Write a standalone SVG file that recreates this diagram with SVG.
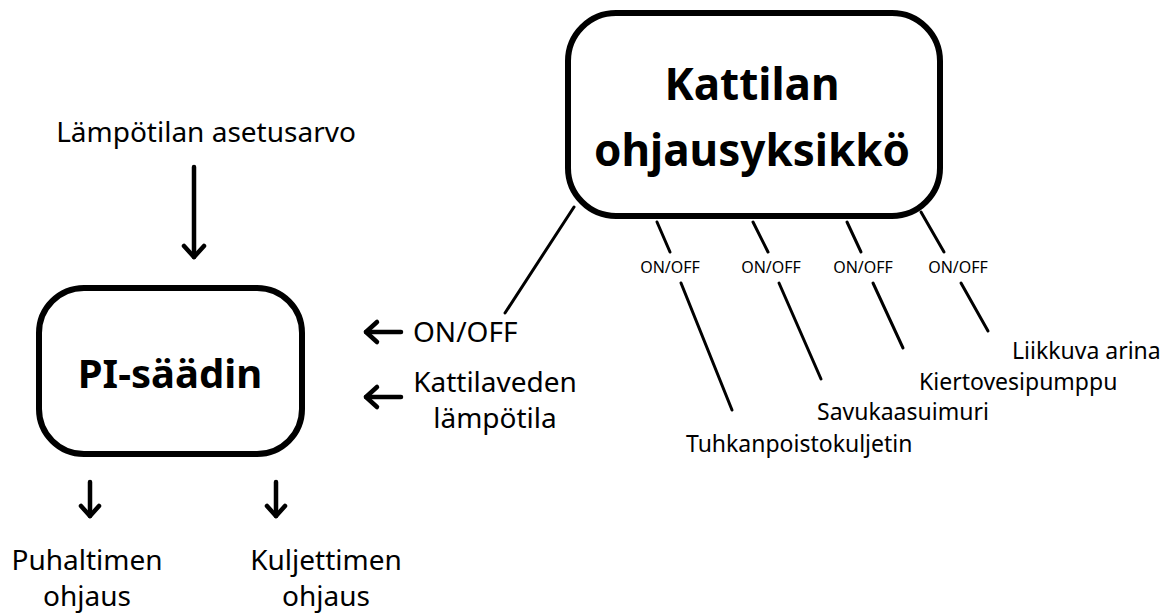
<svg xmlns="http://www.w3.org/2000/svg" width="1168" height="615" viewBox="0 0 1168 615">
<style>
.box{fill:#fff;stroke:#000;stroke-width:6}
.title{font-family:"Noto Sans",sans-serif;font-weight:bold;fill:#000;text-anchor:middle}
.lbl{font-family:"Noto Sans",sans-serif;fill:#000;font-size:28px}
.sm{font-family:"Noto Sans",sans-serif;fill:#000;font-size:23px}
.tiny{font-family:"Noto Sans",sans-serif;fill:#000;font-size:16px;text-anchor:middle}
.ln{stroke:#000;stroke-width:3;fill:none;stroke-linecap:round}
.ar{stroke:#000;stroke-width:4.5;fill:none;stroke-linecap:round;stroke-linejoin:round}
</style>
<rect width="1168" height="615" fill="#fff"/>
<g id="connectors">
<line class="ln" x1="574" y1="207" x2="505" y2="313"/>
<line class="ln" x1="657" y1="222" x2="670" y2="252"/>
<line class="ln" x1="681" y1="283" x2="732" y2="410"/>
<line class="ln" x1="753" y1="222" x2="768" y2="252"/>
<line class="ln" x1="779" y1="283" x2="821" y2="379"/>
<line class="ln" x1="847" y1="222" x2="861" y2="252"/>
<line class="ln" x1="873" y1="283" x2="903" y2="348"/>
<line class="ln" x1="921" y1="212" x2="944" y2="252"/>
<line class="ln" x1="961" y1="283" x2="988" y2="331"/>
<g id="arrow-setpoint"><line class="ar" x1="194" y1="167" x2="194" y2="257"/><path class="ar" d="M184,246 L194,257 L204,246"/></g>
<g id="arrow-onoff"><line class="ar" x1="401" y1="332" x2="366" y2="332"/><path class="ar" d="M377,322 L366,332 L377,342"/></g>
<g id="arrow-temp"><line class="ar" x1="401" y1="397" x2="366" y2="397"/><path class="ar" d="M377,387 L366,397 L377,407"/></g>
<g id="arrow-fan"><line class="ar" x1="90" y1="482" x2="90" y2="516"/><path class="ar" d="M81,506 L90,516 L99,506"/></g>
<g id="arrow-conv"><line class="ar" x1="276" y1="482" x2="276" y2="516"/><path class="ar" d="M267,506 L276,516 L285,506"/></g>
</g>
<g id="kattilan">
<rect class="box" x="568" y="13" width="372" height="203" rx="48"/>
<text class="title" x="752" y="100" font-size="44">Kattilan</text>
<text class="title" x="752" y="166" font-size="44">ohjausyksikkö</text>
</g>
<g id="pi">
<rect class="box" x="39" y="288" width="263" height="166" rx="45"/>
<text class="title" x="170" y="388" font-size="40">PI-säädin</text>
</g>
<g id="labels">
<text class="lbl" x="206" y="142" text-anchor="middle">Lämpötilan asetusarvo</text>
<text class="lbl" x="413" y="342">ON/OFF</text>
<text class="lbl" x="495" y="392" text-anchor="middle">Kattilaveden</text>
<text class="lbl" x="495" y="428" text-anchor="middle">lämpötila</text>
<text class="lbl" x="87" y="570" text-anchor="middle">Puhaltimen</text>
<text class="lbl" x="87" y="606" text-anchor="middle">ohjaus</text>
<text class="lbl" x="326" y="570" text-anchor="middle">Kuljettimen</text>
<text class="lbl" x="326" y="606" text-anchor="middle">ohjaus</text>
<text class="tiny" x="670" y="273">ON/OFF</text>
<text class="tiny" x="771" y="273">ON/OFF</text>
<text class="tiny" x="863" y="273">ON/OFF</text>
<text class="tiny" x="958" y="273">ON/OFF</text>
<text class="sm" x="686" y="452">Tuhkanpoistokuljetin</text>
<text class="sm" x="817" y="420">Savukaasuimuri</text>
<text class="sm" x="919" y="390">Kiertovesipumppu</text>
<text class="sm" x="1012" y="359">Liikkuva arina</text>
</g>
</svg>
